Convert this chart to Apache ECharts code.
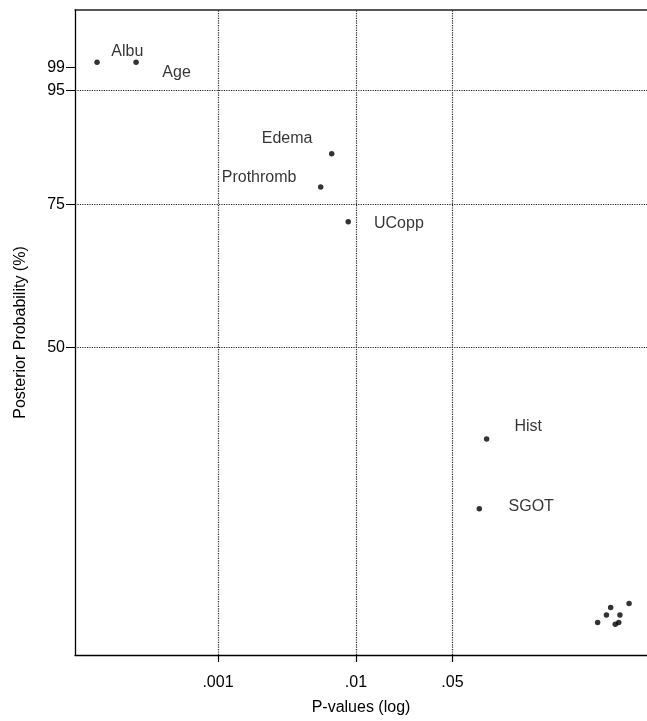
<!DOCTYPE html>
<html>
<head>
<meta charset="utf-8">
<script src="https://cdn.jsdelivr.net/npm/echarts@6/dist/echarts.min.js"></script>
<style>
    html, body { margin: 0; padding: 0; background: #fff; }
    #echarts-scatter-chart { width: 647px; height: 721px; }
</style>
</head>
<body>
<div id="echarts-scatter-chart"></div>
<script>
// variables, their p-values and posterior probabilities (%)
var varNames = ['Albu', 'Age', 'Edema', 'Prothromb', 'UCopp', 'Hist', 'SGOT', '', '', '', '', '', '', ''];
var pValues = [0.000133, 0.000255, 0.00667, 0.00555, 0.00879, 0.0885, 0.0783,
    0.564, 0.653, 0.701, 0.818, 0.757, 0.802, 0.953];
var postProb = [99.9, 99.9, 83.9, 78.1, 72.0, 34.0, 21.8,
    1.9, 3.2, 4.5, 3.2, 1.6, 1.9, 5.2];

var xTickValues = [0.001, 0.01, 0.05];
var xTickLabels = ['.001', '.01', '.05'];
var yTickValues = [50, 75, 95, 99];
var yGridValues = [50, 75, 95];

// where each name sits next to its dot
var labelPlace = {
    'Albu': {position: 'right', offset: [11.5, -11]},
    'Age': {position: 'right', offset: [23.5, 10]},
    'Edema': {position: 'left', offset: [-16.5, -15]},
    'Prothromb': {position: 'left', offset: [-21.5, -9]},
    'UCopp': {position: 'right', offset: [23, 2]},
    'Hist': {position: 'right', offset: [25, -12]},
    'SGOT': {position: 'right', offset: [26.5, -2]}
};

var font = '"Liberation Sans", Arial, sans-serif';
var xTickLogs = xTickValues.map(function (v) { return Math.log10(v); });

var points = pValues.map(function (p, i) {
    var item = {name: varNames[i], value: [Math.log10(p), postProb[i]]};
    var place = labelPlace[varNames[i]];
    if (place) {
        item.label = {show: true, position: place.position, offset: place.offset};
    }
    return item;
});

var gridLines = [];
xTickLogs.forEach(function (v) { gridLines.push({xAxis: v}); });
yGridValues.forEach(function (v) { gridLines.push({yAxis: v}); });

var scatterChart = echarts.init(document.getElementById('echarts-scatter-chart'));
var scatteroption = {
    animation: false,
    textStyle: {fontFamily: font},
    grid: {left: 75, right: 0, top: 10, bottom: 65.5},
    xAxis: [
        {
            type: 'value',
            position: 'bottom',
            min: -4.036,
            max: 0.109,
            name: 'P-values (log)',
            nameLocation: 'middle',
            nameGap: 45,
            nameTextStyle: {fontSize: 16, color: '#000', fontFamily: font},
            axisLine: {show: true, onZero: false, lineStyle: {color: '#000', width: 1.3}},
            axisTick: {
                show: true,
                customValues: xTickLogs,
                length: 7,
                lineStyle: {color: '#000', width: 1.2}
            },
            axisLabel: {
                customValues: xTickLogs,
                margin: 20,
                fontSize: 16,
                color: '#000',
                fontFamily: font,
                formatter: function (v) {
                    for (var i = 0; i < xTickLogs.length; i++) {
                        if (Math.abs(xTickLogs[i] - v) < 1e-6) return xTickLabels[i];
                    }
                    return '';
                }
            },
            splitLine: {show: false}
        },
        {
            type: 'value',
            position: 'top',
            min: -4.036,
            max: 0.109,
            axisLine: {show: true, onZero: false, lineStyle: {color: '#222', width: 1.5}},
            axisTick: {show: false},
            axisLabel: {show: false},
            splitLine: {show: false}
        }
    ],
    yAxis: {
        type: 'value',
        min: -3.8,
        max: 109.05,
        name: 'Posterior Probability (%)',
        nameLocation: 'middle',
        nameGap: 46,
        nameTextStyle: {fontSize: 16, color: '#000', fontFamily: font},
        axisLine: {show: true, onZero: false, lineStyle: {color: '#000', width: 1.3}},
        axisTick: {customValues: yTickValues, length: 9, lineStyle: {color: '#000'}},
        axisLabel: {customValues: yTickValues, margin: 10, fontSize: 16, color: '#000', fontFamily: font},
        splitLine: {show: false}
    },
    series: [
        {
            type: 'scatter',
            symbolSize: 5.5,
            itemStyle: {color: '#000'},
            label: {
                show: false,
                distance: 0,
                fontSize: 16,
                color: '#000',
                fontFamily: font,
                formatter: '{b}'
            },
            data: points,
            markLine: {
                silent: true,
                symbol: 'none',
                label: {show: false},
                lineStyle: {color: '#222', type: 'dotted', width: 1.2},
                data: gridLines
            }
        }
    ]
};
scatterChart.setOption(scatteroption);
</script>
</body>
</html>
